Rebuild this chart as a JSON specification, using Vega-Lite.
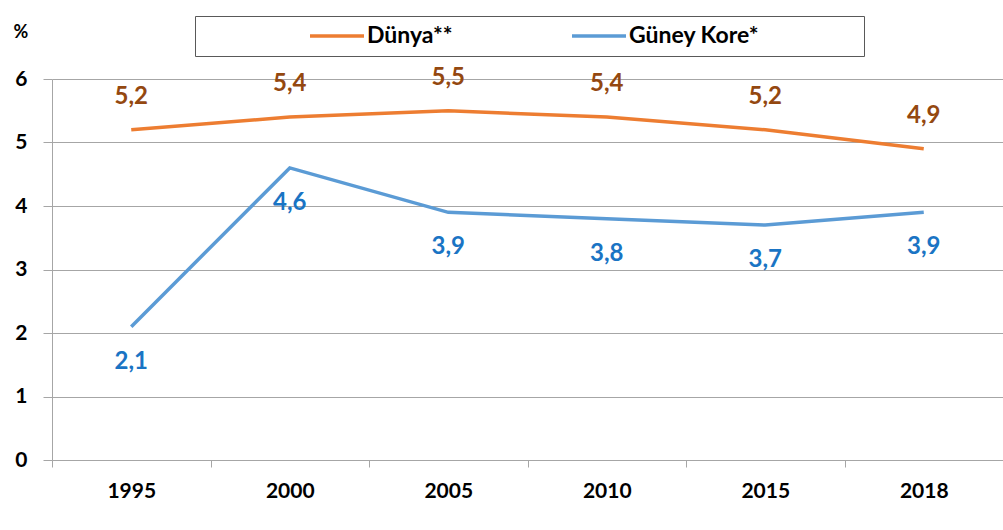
{
  "$schema": "https://vega.github.io/schema/vega-lite/v6.json",
  "width": 951,
  "height": 381,
  "autosize": {"type": "none"},
  "padding": {"left": 52, "top": 79, "right": 0, "bottom": 70},
  "background": "white",
  "config": {
    "font": "Lato",
    "view": {"stroke": null},
    "locale": {"number": {"decimal": ",", "thousands": ".", "grouping": [3], "currency": ["", " TL"]}}
  },
  "data": {
    "values": [
      {"year": "1995", "series": "Dünya**", "value": 5.2},
      {"year": "2000", "series": "Dünya**", "value": 5.4},
      {"year": "2005", "series": "Dünya**", "value": 5.5},
      {"year": "2010", "series": "Dünya**", "value": 5.4},
      {"year": "2015", "series": "Dünya**", "value": 5.2},
      {"year": "2018", "series": "Dünya**", "value": 4.9},
      {"year": "1995", "series": "Güney Kore*", "value": 2.1},
      {"year": "2000", "series": "Güney Kore*", "value": 4.6},
      {"year": "2005", "series": "Güney Kore*", "value": 3.9},
      {"year": "2010", "series": "Güney Kore*", "value": 3.8},
      {"year": "2015", "series": "Güney Kore*", "value": 3.7},
      {"year": "2018", "series": "Güney Kore*", "value": 3.9}
    ]
  },
  "encoding": {
    "x": {
      "field": "year", "type": "ordinal",
      "scale": {"type": "band", "paddingInner": 0, "paddingOuter": 0},
      "axis": {
        "title": null, "labelAngle": 0, "tickBand": "extent",
        "domainColor": "#A6A6A6", "tickColor": "#A6A6A6", "tickSize": 7,
        "labelFontSize": 21, "labelFontWeight": "bold", "labelColor": "#000000",
        "labelPadding": 13, "grid": false
      }
    },
    "y": {
      "field": "value", "type": "quantitative",
      "scale": {"domain": [0, 6], "nice": false},
      "axis": {
        "values": [0, 1, 2, 3, 4, 5, 6], "format": "d",
        "title": "%", "titleAngle": 0, "titleX": -39, "titleY": -47,
        "titleAlign": "left", "titleBaseline": "middle",
        "titleFontSize": 18, "titleFontWeight": "bold", "titleColor": "#000000",
        "domainColor": "#A6A6A6", "tickColor": "#A6A6A6", "tickSize": 9,
        "labelFontSize": 21, "labelFontWeight": "bold", "labelColor": "#000000",
        "labelPadding": 16, "grid": true, "gridColor": "#A6A6A6", "gridWidth": 1
      }
    }
  },
  "layer": [
    {
      "mark": {"type": "line", "strokeWidth": 3.5},
      "encoding": {
        "color": {
          "field": "series", "type": "nominal",
          "scale": {"domain": ["Dünya**", "Güney Kore*"], "range": ["#ED7D31", "#5B9BD5"]},
          "legend": {
            "orient": "none", "legendX": 143, "legendY": -63,
            "direction": "horizontal",
            "title": "\u00a0", "titleOrient": "right", "titlePadding": 97, "titleFontSize": 12,
            "symbolType": "M-2.7,0H2.7", "symbolSize": 400, "symbolStrokeWidth": 3.5,
            "symbolOffset": 122, "labelOffset": 18,
            "labelFontSize": 23, "labelFontWeight": "bold", "labelColor": "#000000",
            "columnPadding": 12, "padding": 8,
            "strokeColor": "#595959", "fillColor": "white"
          }
        }
      }
    },
    {
      "transform": [{"filter": "datum.series === 'Dünya**'"}],
      "mark": {"type": "text", "dy": -33, "fontSize": 24, "fontWeight": "bold", "color": "#944810", "baseline": "middle"},
      "encoding": {"text": {"field": "value", "type": "quantitative", "format": ".1f"}}
    },
    {
      "transform": [{"filter": "datum.series === 'Güney Kore*'"}],
      "mark": {"type": "text", "dy": 35, "fontSize": 24, "fontWeight": "bold", "color": "#1A74C4", "baseline": "middle"},
      "encoding": {"text": {"field": "value", "type": "quantitative", "format": ".1f"}}
    }
  ]
}
